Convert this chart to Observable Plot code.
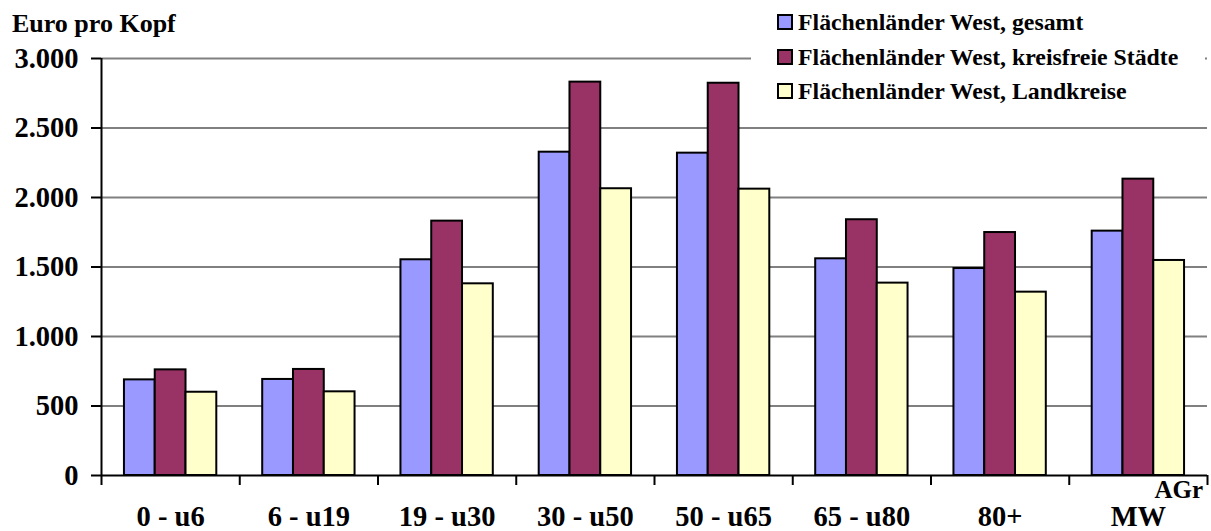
<!DOCTYPE html>
<html>
<head>
<meta charset="utf-8">
<script src="https://cdn.jsdelivr.net/npm/d3@7"></script>
<script src="https://cdn.jsdelivr.net/npm/@observablehq/plot@0.6"></script>
<style>
  body { margin: 0; background: #fff; }
  #wrap { position: relative; width: 1211px; height: 531px; font-family: "Liberation Serif", "Times New Roman", serif; font-weight: bold; color: #000; }
  #title { position: absolute; left: 12px; top: 11px; font-size: 26px; line-height: 1; }
  #legend { position: absolute; left: 751px; top: 0; width: 454px; height: 106px; background: #fff; }
  .row { position: absolute; left: 26px; height: 24px; display: flex; align-items: center; font-size: 23.8px; white-space: nowrap; }
  .sw { width: 12px; height: 12px; border: 2px solid #000; margin-right: 5px; flex: none; }
  #agr { position: absolute; right: 8px; top: 477px; font-size: 25px; line-height: 1; }
</style>
</head>
<body>
<div id="wrap">
  <div id="chart"></div>
  <div id="title">Euro pro Kopf</div>
  <div id="legend"></div>
  <div id="agr">AGr</div>
</div>
<script>
// Age groups (AGr) and the overall mean (MW)
const categories = ["0 - u6", "6 - u19", "19 - u30", "30 - u50", "50 - u65", "65 - u80", "80+", "MW"];
const seriesNames = [
  "Flächenländer West, gesamt",
  "Flächenländer West, kreisfreie Städte",
  "Flächenländer West, Landkreise"
];
// Euro per head
const gesamt     = [688, 691, 1552, 2326, 2319, 1559, 1489, 1758];
const kreisfrei  = [760, 763, 1830, 2830, 2822, 1840, 1748, 2132];
const landkreise = [599, 602, 1379, 2063, 2060, 1384, 1319, 1547];
const yTicks = [0, 500, 1000, 1500, 2000, 2500, 3000];
const colors = ["#9999ff", "#993366", "#ffffcc"];

// Layout of the three bars inside each age-group band (fractions of a band)
const groupInset = 0.166;
const barFrac = (1 - 2 * groupInset) / 3;

const seriesValues = [gesamt, kreisfrei, landkreise];
const rows = categories.flatMap((cat, i) =>
  seriesValues.map((vals, j) => ({ cat, i, j, series: seriesNames[j], value: vals[i] }))
);

const de = d3.formatLocale({ decimal: ",", thousands: ".", grouping: [3], currency: ["", " €"] });
const fmt = de.format(",d");

const chart = Plot.plot({
  width: 1211,
  height: 531,
  marginTop: 58,
  marginBottom: 56,
  marginLeft: 101,
  marginRight: 4,
  style: { fontFamily: "'Liberation Serif', 'Times New Roman', serif", fontWeight: "bold", background: "#fff", color: "#000" },
  x: { type: "linear", domain: [0, categories.length], axis: null },
  y: { domain: [0, 3000], axis: null },
  color: { domain: seriesNames, range: colors },
  marks: [
    Plot.gridY(yTicks.filter(v => v > 0), { stroke: "#808080", strokeOpacity: 1, strokeWidth: 2 }),
    Plot.rectY(rows, {
      x1: d => d.i + groupInset + d.j * barFrac,
      x2: d => d.i + groupInset + (d.j + 1) * barFrac,
      y: "value",
      fill: "series",
      stroke: "#000",
      strokeWidth: 2
    }),
    Plot.ruleX([0], { stroke: "#000", strokeWidth: 2 }),
    Plot.ruleY([0], { stroke: "#000", strokeWidth: 2 }),
    Plot.axisY(yTicks, {
      anchor: "left", label: null, tickSize: 10, tickPadding: 13,
      tickFormat: fmt, fontSize: 28.5, fontWeight: "bold", strokeWidth: 2
    }),
    Plot.axisX(d3.range(categories.length + 1), {
      anchor: "bottom", label: null, tickSize: 10, tickFormat: () => "", strokeWidth: 2
    }),
    Plot.axisX(categories.map((_, i) => i + 0.5), {
      anchor: "bottom", label: null, tickSize: 0, tickPadding: 30,
      tickFormat: v => categories[Math.floor(v)], fontSize: 28.5, fontWeight: "bold"
    })
  ]
});
document.getElementById("chart").appendChild(chart);

// Legend
const legend = document.getElementById("legend");
const rowTops = [10, 45, 79];
seriesNames.forEach((name, j) => {
  const row = document.createElement("div");
  row.className = "row";
  row.style.top = rowTops[j] + "px";
  const sw = document.createElement("span");
  sw.className = "sw";
  sw.style.background = colors[j];
  const label = document.createElement("span");
  label.textContent = name;
  row.appendChild(sw);
  row.appendChild(label);
  legend.appendChild(row);
});
</script>
</body>
</html>
